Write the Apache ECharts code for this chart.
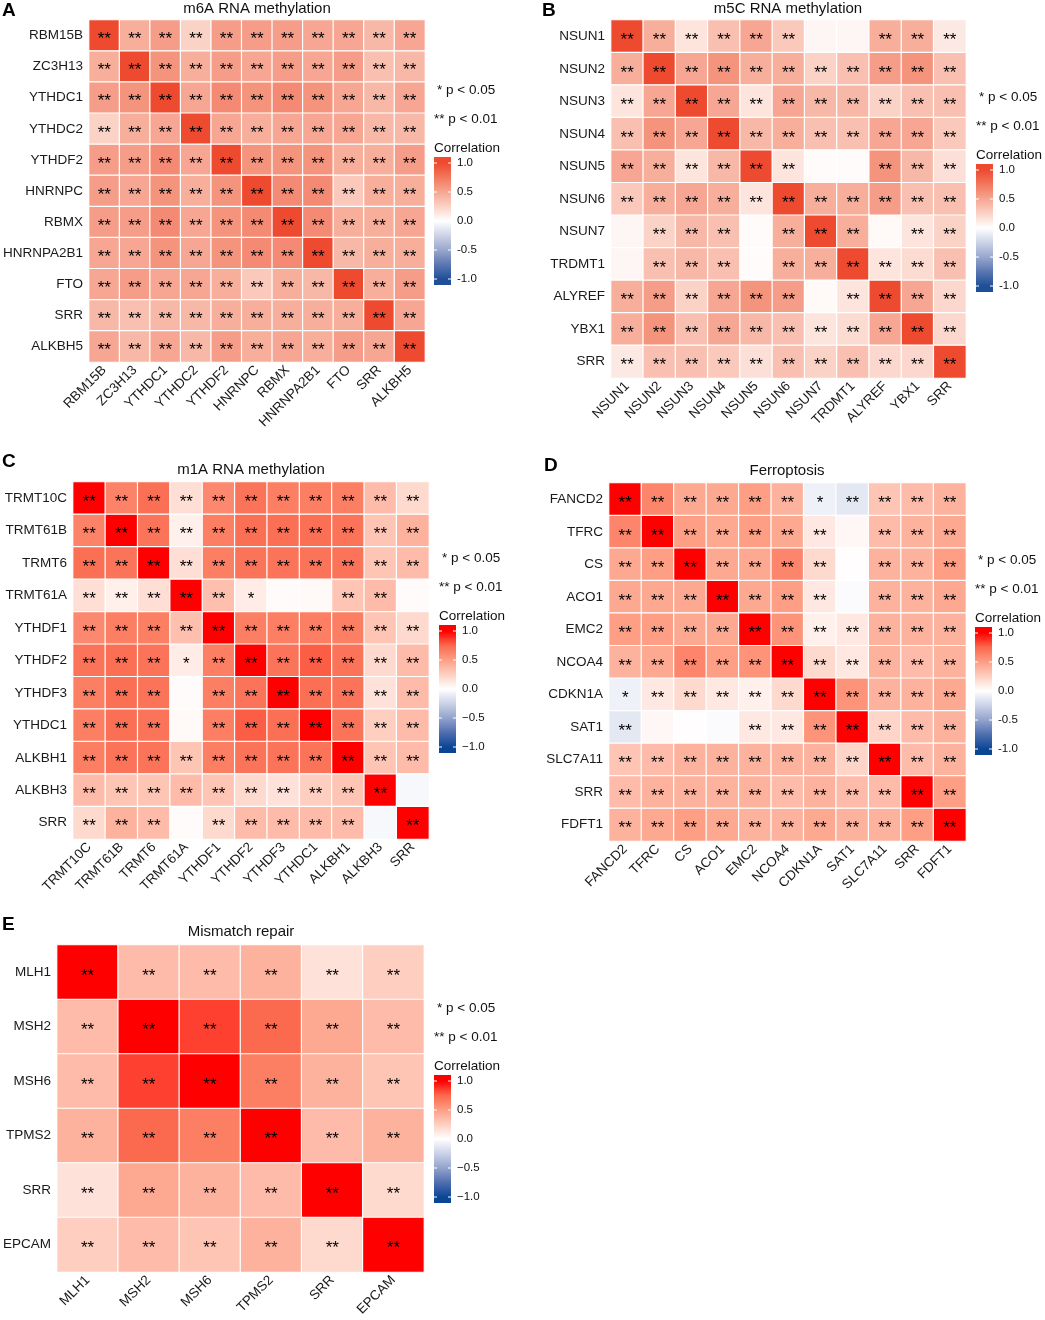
<!DOCTYPE html>
<html lang="en">
<head>
    <meta charset="UTF-8">
    <title>Correlation heatmaps</title>
    <script src="https://cdn.jsdelivr.net/npm/echarts@6/dist/echarts.min.js"></script>
    <style>
        html, body { margin: 0; padding: 0; background: #fff; }
    </style>
</head>
<body>
<div id="main" style="width: 1045px;height:1320px;"></div>
<script>
    // ---- data ----
    const genesA = ['RBM15B', 'ZC3H13', 'YTHDC1', 'YTHDC2', 'YTHDF2', 'HNRNPC', 'RBMX', 'HNRNPA2B1', 'FTO', 'SRR', 'ALKBH5']
    const corrA = [
        [1, 0.45, 0.55, 0.25, 0.55, 0.55, 0.55, 0.5, 0.5, 0.4, 0.5],
        [0.45, 1, 0.6, 0.45, 0.55, 0.5, 0.55, 0.5, 0.55, 0.35, 0.4],
        [0.55, 0.6, 1, 0.5, 0.65, 0.6, 0.65, 0.6, 0.5, 0.4, 0.5],
        [0.25, 0.45, 0.5, 1, 0.5, 0.45, 0.5, 0.5, 0.5, 0.4, 0.4],
        [0.55, 0.55, 0.65, 0.5, 1, 0.6, 0.6, 0.6, 0.45, 0.45, 0.55],
        [0.55, 0.5, 0.6, 0.45, 0.6, 1, 0.65, 0.65, 0.3, 0.45, 0.45],
        [0.55, 0.55, 0.65, 0.5, 0.6, 0.65, 1, 0.65, 0.45, 0.45, 0.5],
        [0.5, 0.5, 0.6, 0.5, 0.6, 0.65, 0.65, 1, 0.4, 0.45, 0.45],
        [0.5, 0.55, 0.5, 0.5, 0.45, 0.3, 0.45, 0.4, 1, 0.45, 0.55],
        [0.4, 0.35, 0.4, 0.4, 0.45, 0.45, 0.45, 0.45, 0.45, 1, 0.5],
        [0.5, 0.4, 0.5, 0.4, 0.55, 0.45, 0.5, 0.45, 0.55, 0.5, 1]
    ]
    // 2 = **, 1 = *, 0 = not significant
    const sigA = ['22222222222', '22222222222', '22222222222', '22222222222', '22222222222', '22222222222',
        '22222222222', '22222222222', '22222222222', '22222222222', '22222222222']

    const genesB = ['NSUN1', 'NSUN2', 'NSUN3', 'NSUN4', 'NSUN5', 'NSUN6', 'NSUN7', 'TRDMT1', 'ALYREF', 'YBX1', 'SRR']
    const corrB = [
        [1, 0.45, 0.15, 0.35, 0.5, 0.3, 0.05, 0.05, 0.45, 0.45, 0.12],
        [0.45, 1, 0.5, 0.6, 0.45, 0.45, 0.25, 0.35, 0.55, 0.6, 0.35],
        [0.15, 0.5, 1, 0.5, 0.15, 0.5, 0.4, 0.4, 0.25, 0.35, 0.35],
        [0.35, 0.6, 0.5, 1, 0.4, 0.45, 0.35, 0.35, 0.5, 0.5, 0.3],
        [0.5, 0.45, 0.15, 0.4, 1, 0.15, 0.02, 0.02, 0.6, 0.4, 0.18],
        [0.3, 0.45, 0.5, 0.45, 0.15, 1, 0.45, 0.45, 0.55, 0.35, 0.35],
        [0.05, 0.25, 0.4, 0.35, 0.02, 0.45, 1, 0.45, 0.03, 0.15, 0.25],
        [0.05, 0.35, 0.4, 0.35, 0.02, 0.45, 0.45, 1, 0.15, 0.2, 0.35],
        [0.45, 0.55, 0.25, 0.5, 0.6, 0.55, 0.03, 0.15, 1, 0.5, 0.22],
        [0.45, 0.6, 0.35, 0.5, 0.4, 0.35, 0.15, 0.2, 0.5, 1, 0.22],
        [0.12, 0.35, 0.35, 0.3, 0.18, 0.35, 0.25, 0.35, 0.22, 0.22, 1]
    ]
    const sigB = ['22222200222', '22222222222', '22222222222', '22222222222', '22222200222', '22222222222',
        '02220222022', '02220222222', '22222202222', '22222222222', '22222222222']

    const genesC = ['TRMT10C', 'TRMT61B', 'TRMT6', 'TRMT61A', 'YTHDF1', 'YTHDF2', 'YTHDF3', 'YTHDC1', 'ALKBH1', 'ALKBH3', 'SRR']
    const corrC = [
        [1, 0.63, 0.72, 0.17, 0.6, 0.7, 0.65, 0.65, 0.65, 0.35, 0.2],
        [0.63, 1, 0.7, 0.08, 0.65, 0.72, 0.72, 0.72, 0.7, 0.3, 0.4],
        [0.72, 0.7, 1, 0.17, 0.65, 0.7, 0.7, 0.7, 0.7, 0.3, 0.35],
        [0.17, 0.08, 0.17, 1, 0.33, 0.1, 0.02, 0.03, 0.3, 0.35, 0.02],
        [0.6, 0.65, 0.65, 0.33, 1, 0.65, 0.65, 0.65, 0.65, 0.3, 0.2],
        [0.7, 0.72, 0.7, 0.1, 0.65, 1, 0.7, 0.78, 0.7, 0.2, 0.35],
        [0.65, 0.72, 0.7, 0.02, 0.65, 0.7, 1, 0.72, 0.7, 0.15, 0.35],
        [0.65, 0.72, 0.7, 0.03, 0.65, 0.78, 0.72, 1, 0.7, 0.25, 0.35],
        [0.65, 0.7, 0.7, 0.3, 0.65, 0.7, 0.7, 0.7, 1, 0.3, 0.35],
        [0.35, 0.3, 0.3, 0.35, 0.3, 0.2, 0.15, 0.25, 0.3, 1, -0.04],
        [0.2, 0.4, 0.35, 0.02, 0.2, 0.35, 0.35, 0.35, 0.35, -0.04, 1]
    ]
    const sigC = ['22222222222', '22222222222', '22222222222', '22222100220', '22222222222', '22212222222',
        '22202222222', '22202222222', '22222222222', '22222222220', '22202222202']

    const genesD = ['FANCD2', 'TFRC', 'CS', 'ACO1', 'EMC2', 'NCOA4', 'CDKN1A', 'SAT1', 'SLC7A11', 'SRR', 'FDFT1']
    const corrD = [
        [1, 0.62, 0.45, 0.45, 0.5, 0.4, -0.08, -0.13, 0.3, 0.35, 0.4],
        [0.62, 1, 0.5, 0.45, 0.5, 0.45, 0.12, 0.04, 0.35, 0.4, 0.45],
        [0.45, 0.5, 1, 0.45, 0.45, 0.62, 0.2, 0.01, 0.4, 0.4, 0.5],
        [0.45, 0.45, 0.45, 1, 0.45, 0.5, 0.12, -0.02, 0.4, 0.4, 0.45],
        [0.5, 0.5, 0.45, 0.45, 1, 0.55, 0.08, 0.12, 0.4, 0.4, 0.4],
        [0.4, 0.45, 0.62, 0.5, 0.55, 1, 0.2, 0.12, 0.4, 0.35, 0.4],
        [-0.08, 0.12, 0.2, 0.12, 0.08, 0.2, 1, 0.55, 0.4, 0.4, 0.45],
        [-0.13, 0.04, 0.01, -0.02, 0.12, 0.12, 0.55, 1, 0.22, 0.35, 0.4],
        [0.3, 0.35, 0.4, 0.4, 0.4, 0.4, 0.4, 0.22, 1, 0.35, 0.4],
        [0.35, 0.4, 0.4, 0.4, 0.4, 0.35, 0.4, 0.35, 0.35, 1, 0.5],
        [0.4, 0.45, 0.5, 0.45, 0.4, 0.4, 0.45, 0.4, 0.4, 0.5, 1]
    ]
    const sigD = ['22222212222', '22222220222', '22222220222', '22222220222', '22222222222', '22222222222',
        '12222222222', '20002222222', '22222222222', '22222222222', '22222222222']

    const genesE = ['MLH1', 'MSH2', 'MSH6', 'TPMS2', 'SRR', 'EPCAM']
    const corrE = [
        [1, 0.35, 0.35, 0.4, 0.15, 0.25],
        [0.35, 1, 0.85, 0.75, 0.45, 0.35],
        [0.35, 0.85, 1, 0.65, 0.4, 0.3],
        [0.4, 0.75, 0.65, 1, 0.35, 0.4],
        [0.15, 0.45, 0.4, 0.35, 1, 0.2],
        [0.25, 0.35, 0.3, 0.4, 0.2, 1]
    ]
    const sigE = ['222222', '222222', '222222', '222222', '222222', '222222']

    const legendTicks = [1, 0.5, 0, -0.5, -1]

    // ---- styling ----
    const FONT = '"Liberation Sans", Arial, sans-serif'
    // colours for -1 ... 1 in steps of 0.25
    const palSoft = ['#1F4F98', '#5B77B2', '#98A7CD', '#CDD3E7', '#FFFFFF', '#FBD2C6', '#F6A692', '#F2785E', '#EE4A30']
    const palHard = ['#0B4695', '#4F6FAF', '#93A3CC', '#CBD2E7', '#FFFFFF', '#FECFC1', '#FD9E85', '#FB6A4E', '#FF0000']

    const panels = [
        {letter: 'A', title: 'm6A RNA methylation', genes: genesA, corr: corrA, sig: sigA, pal: palSoft, minus: '-',
            grid: {left: 89, top: 20, width: 336, height: 342}, titleX: 257, titleY: 9, letterX: 2, letterY: 11, leg: [434, 90]},
        {letter: 'B', title: 'm5C RNA methylation', genes: genesB, corr: corrB, sig: sigB, pal: palSoft, minus: '-',
            grid: {left: 611, top: 20, width: 355, height: 358}, titleX: 788, titleY: 9, letterX: 542, letterY: 11, leg: [976, 97]},
        {letter: 'C', title: 'm1A RNA methylation', genes: genesC, corr: corrC, sig: sigC, pal: palHard, minus: '\u2212',
            grid: {left: 73, top: 482, width: 356, height: 357}, titleX: 251, titleY: 470, letterX: 2, letterY: 462, leg: [439, 558]},
        {letter: 'D', title: 'Ferroptosis', genes: genesD, corr: corrD, sig: sigD, pal: palHard, minus: '-',
            grid: {left: 609, top: 483, width: 357, height: 358}, titleX: 787, titleY: 471, letterX: 544, letterY: 466, leg: [975, 560]},
        {letter: 'E', title: 'Mismatch repair', genes: genesE, corr: corrE, sig: sigE, pal: palHard, minus: '\u2212',
            grid: {left: 57, top: 945, width: 367, height: 327}, titleX: 241, titleY: 932, letterX: 2, letterY: 925, leg: [434, 1008]}
    ]

    function cells(m) {
        const out = []
        m.forEach((row, r) => row.forEach((v, c) => out.push([c, r, v])))
        return out
    }

    function stars(code) {
        return code === '2' ? '**' : code === '1' ? '*' : ''
    }

    function legendGraphics(p) {
        const [x, y] = p.leg
        const barTop = y + 67, barH = 128, barW = 17
        const els = []
        const txt = (t, tx, ty, size) => ({
            type: 'text', x: tx, y: ty,
            style: {text: t, fontSize: size, fontFamily: FONT, fill: '#111', verticalAlign: 'middle', align: 'left'}
        })
        els.push(txt('* p < 0.05', x + 3, y, 13.5))
        els.push(txt('** p < 0.01', x, y + 29, 13.5))
        els.push(txt('Correlation', x, y + 58, 13.5))
        // gradient stops, value -> offset inside bar
        const off = v => (6 + (1 - v) / 2 * 116) / barH
        const stops = [{offset: 0, color: p.pal[8]}]
        for (let i = 8; i >= 0; i--) {
            stops.push({offset: off(-1 + i * 0.25), color: p.pal[i]})
        }
        stops.push({offset: 1, color: p.pal[0]})
        els.push({
            type: 'rect', shape: {x: x, y: barTop, width: barW, height: barH},
            style: {fill: new echarts.graphic.LinearGradient(0, 0, 0, 1, stops)}
        })
        legendTicks.forEach((v, i) => {
            const ty = barTop + 6 + i * 29
            const t = (v < 0 ? p.minus : '') + Math.abs(v).toFixed(1)
            els.push({type: 'line', shape: {x1: x, y1: ty, x2: x + 3, y2: ty}, style: {stroke: '#fff', lineWidth: 1}})
            els.push({type: 'line', shape: {x1: x + barW - 3, y1: ty, x2: x + barW, y2: ty}, style: {stroke: '#fff', lineWidth: 1}})
            els.push(txt(t, x + barW + 6, ty, 11.5))
        })
        return els
    }

    const option = {
        animation: false,
        backgroundColor: '#fff',
        grid: [], xAxis: [], yAxis: [], visualMap: [], series: [], graphic: []
    }

    panels.forEach((p, i) => {
        option.grid.push(p.grid)
        option.xAxis.push({
            type: 'category', gridIndex: i, data: p.genes,
            axisLine: {show: false}, axisTick: {show: false}, splitLine: {show: false},
            axisLabel: {rotate: 45, fontSize: 13.5, fontFamily: FONT, color: '#1a1a1a', margin: 6, interval: 0}
        })
        option.yAxis.push({
            type: 'category', gridIndex: i, data: p.genes, inverse: true,
            axisLine: {show: false}, axisTick: {show: false}, splitLine: {show: false},
            axisLabel: {fontSize: 13.5, fontFamily: FONT, color: '#1a1a1a', margin: 6, interval: 0}
        })
        option.visualMap.push({
            type: 'continuous', show: false, seriesIndex: i, dimension: 2,
            min: -1, max: 1, inRange: {color: p.pal}
        })
        option.series.push({
            type: 'heatmap', xAxisIndex: i, yAxisIndex: i,
            data: cells(p.corr),
            itemStyle: {borderColor: '#fff', borderWidth: 1.2},
            label: {
                show: true, color: '#000', fontSize: 17, fontFamily: FONT, offset: [0, 4],
                formatter: q => stars(p.sig[q.data[1]][q.data[0]])
            },
            emphasis: {disabled: true}
        })
        option.graphic.push({
            type: 'text', x: p.titleX, y: p.titleY,
            style: {text: p.title, fontSize: 15, fontFamily: FONT, fill: '#111', align: 'center', verticalAlign: 'middle'}
        })
        option.graphic.push({
            type: 'text', x: p.letterX, y: p.letterY,
            style: {text: p.letter, fontSize: 19, fontWeight: 'bold', fontFamily: FONT, fill: '#000', align: 'left', verticalAlign: 'middle'}
        })
        legendGraphics(p).forEach(e => option.graphic.push(e))
    })

    const myChart = echarts.init(document.getElementById('main'))
    myChart.setOption(option)
</script>
</body>
</html>
